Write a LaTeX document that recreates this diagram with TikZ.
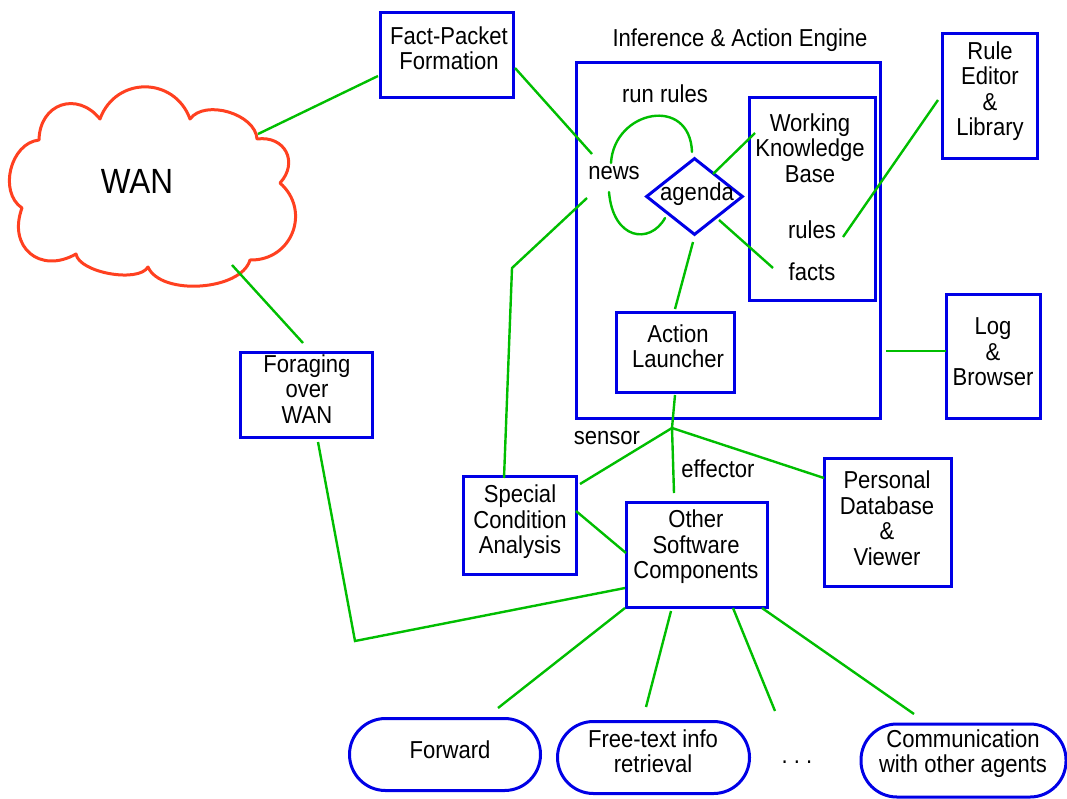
\documentclass[tikz,border=0pt]{standalone}
\usepackage{fontspec}
\setmainfont{Liberation Sans}[FakeStretch=0.9]
\usetikzlibrary{shapes.geometric}
\definecolor{boxblue}{RGB}{0,0,230}
\definecolor{linkgreen}{RGB}{0,190,0}
\definecolor{cloudred}{RGB}{255,64,32}
\begin{document}
\begin{tikzpicture}[x=1pt,y=-1pt,
  every node/.style={font=\fontsize{24.5}{25.5}\selectfont, inner sep=0pt},
  box/.style={draw=boxblue, line width=3pt},
  pill/.style={draw=boxblue, line width=3pt, rounded corners=36pt},
  link/.style={draw=linkgreen, line width=2.4pt},
  lbl/.style={align=center}]
\useasboundingbox (0,0) rectangle (1067,798);

% cloud
\draw[cloudred, line width=3pt, line join=round]
  (39,140) to[bend left=70, looseness=1.45] (100,119)
  to[bend left=70, looseness=1.3] (190,119)
  to[bend left=70, looseness=0.92] (257,139)
  to[bend left=70, looseness=1.45] (280,183)
  to[bend left=70, looseness=1.3] (250,260)
  to[bend left=70, looseness=0.8] (148,267)
  to[bend left=70, looseness=0.66] (76,254)
  to[bend left=70, looseness=1.5] (22,208)
  to[bend left=70, looseness=1.05] (39,140) -- cycle;
\node[font=\fontsize{35}{36}\selectfont] (wan) at (137,181) {WAN};

% boxes
\node[box, minimum width=133pt, minimum height=85pt] (fact) at (446.5,54.5) {};
\node[lbl] (factT) at (449,48) {Fact-Packet\\Formation};
\node[box, minimum width=304pt, minimum height=356pt] (engine) at (728,240) {};
\node[lbl] (enginelbl) at (740,40) {Inference \& Action Engine};
\node[box, minimum width=95pt, minimum height=125pt] (rule) at (989.5,95.5) {};
\node[lbl] (ruleT) at (990,91) {Rule\\Editor\\\&\\Library};
\node[box, minimum width=126pt, minimum height=203pt] (wkb) at (812,198.5) {};
\node[lbl] (wkbtext) at (810,148) {Working\\Knowledge\\Base};
\node (rules) at (812,230) {rules};
\node (facts) at (812,272) {facts};
\node (runrules) at (665,94) {run rules};
\node (news) at (614,173) {news};
\node[diamond, draw=boxblue, line width=3pt, minimum width=97pt, minimum height=77pt] (agendashape) at (694.5,196.5) {};
\node (agenda) at (697,194) {agenda};
\node[box, minimum width=94pt, minimum height=124pt] (log) at (993,356) {};
\node[lbl] (logT) at (993,352) {Log\\\&\\Browser};
\node[box, minimum width=118pt, minimum height=80pt] (action) at (675,352) {};
\node[lbl] (actionT) at (678,346) {Action\\Launcher};
\node[box, minimum width=113pt, minimum height=98pt] (special) at (519.5,525) {};
\node[lbl] (specialT) at (520,522) {Special\\Condition\\Analysis};
\node[box, minimum width=141pt, minimum height=105pt] (other) at (696.5,554.5) {};
\node[lbl] (otherT) at (696,547) {Other\\Software\\Components};
\node[box, minimum width=127pt, minimum height=128pt] (personal) at (887.5,522) {};
\node[lbl] (personalT) at (887,518) {Personal\\Database\\\&\\Viewer};
\node[box, minimum width=132pt, minimum height=85pt] (foraging) at (306,394.5) {};
\node[lbl] (foragingT) at (307,389) {Foraging\\over\\WAN};
\node (sensor) at (607,438) {sensor};
\node (effector) at (718,469) {effector};
\node[pill, minimum width=191pt, minimum height=72pt] (forward) at (445,754.5) {};
\node[lbl] (forwardT) at (450,750) {Forward};
\node[pill, minimum width=192pt, minimum height=72pt] (freetext) at (653.5,757.5) {};
\node[lbl] (freetextT) at (653,751) {Free-text info\\retrieval};
\node (dots) at (797,762) {.\ .\ .};
\node[pill, minimum width=205pt, minimum height=73pt] (comm) at (963.5,760.5) {};
\node[lbl] (commT) at (963,753.5) {Communication\\with other agents};

% connector end points
\coordinate (wanA) at (258,134);
\coordinate (factA) at (378,76);
\coordinate (factB) at (515,68);
\coordinate (newsA) at (592,154);
\coordinate (newsB) at (587,198);
\coordinate (bendA) at (512,268);
\coordinate (specialA) at (504,478);
\coordinate (agendaA) at (713,174);
\coordinate (wkbA) at (755,133);
\coordinate (agendaB) at (719,220);
\coordinate (factsA) at (773,268);
\coordinate (agendaC) at (693,242);
\coordinate (actionA) at (675,309);
\coordinate (rulesA) at (843,237);
\coordinate (ruleA) at (938,100);
\coordinate (engineA) at (886,351);
\coordinate (logA) at (946,351);
\coordinate (actionB) at (675,395);
\coordinate (jct) at (672,428);
\coordinate (specialB) at (580,484);
\coordinate (personalA) at (824,478);
\coordinate (otherA) at (674,493);
\coordinate (specialC) at (576,511);
\coordinate (otherB) at (626,553);
\coordinate (wanB) at (232,265);
\coordinate (foragingA) at (303,343);
\coordinate (foragingB) at (318,442);
\coordinate (bendB) at (355,641);
\coordinate (otherC) at (625,588);
\coordinate (otherD) at (625,608);
\coordinate (forwardA) at (498,708);
\coordinate (otherE) at (671,611);
\coordinate (freetextA) at (646,707);
\coordinate (otherF) at (733,608);
\coordinate (dotsA) at (775,711);
\coordinate (otherG) at (762,608);
\coordinate (commA) at (914,714);
\coordinate (loopA) at (611,163);
\coordinate (loopB) at (692,152);
\coordinate (loopC) at (609,192);
\coordinate (loopD) at (665,218);

% connectors
\draw[link] (wanA) -- (factA);
\draw[link] (factB) -- (newsA);
\draw[link] (newsB) -- (bendA) -- (specialA);
\draw[link] (agendaA) -- (wkbA);
\draw[link] (agendaB) -- (factsA);
\draw[link] (agendaC) -- (actionA);
\draw[link] (rulesA) -- (ruleA);
\draw[link] (engineA) -- (logA);
\draw[link] (actionB) -- (jct);
\draw[link] (jct) -- (specialB);
\draw[link] (jct) -- (personalA);
\draw[link] (jct) -- (otherA);
\draw[link] (specialC) -- (otherB);
\draw[link] (wanB) -- (foragingA);
\draw[link] (foragingB) -- (bendB) -- (otherC);
\draw[link] (otherD) -- (forwardA);
\draw[link] (otherE) -- (freetextA);
\draw[link] (otherF) -- (dotsA);
\draw[link] (otherG) -- (commA);
\draw[link, line cap=round] (loopA) .. controls (614,110) and (690,95) .. (loopB);
\draw[link, line cap=round] (loopC) .. controls (613,240) and (650,245) .. (loopD);
\end{tikzpicture}
\end{document}
